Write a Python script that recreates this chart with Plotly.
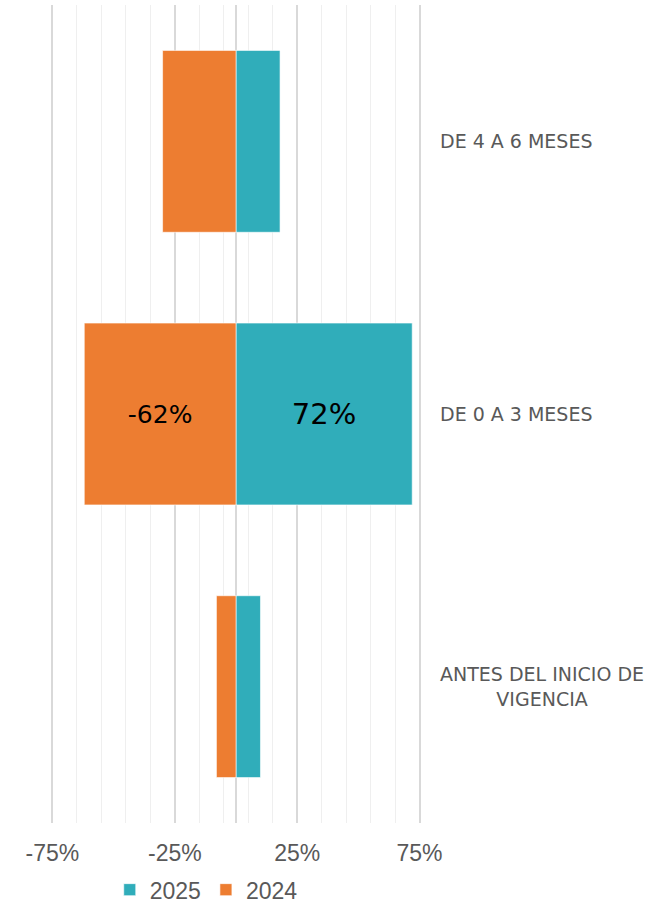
import plotly.graph_objects as go

# Categories listed from top to bottom
categories = ["DE 4 A 6 MESES", "DE 0 A 3 MESES", "ANTES DEL INICIO DE<br>VIGENCIA"]
values_2025 = [18, 72, 10]
values_2024 = [-30, -62, -8]
labelled_category = "DE 0 A 3 MESES"

tick_values = [-75, -25, 25, 75]
tick_labels = ["-75%", "-25%", "25%", "75%"]

teal = "#30ADBA"
orange = "#ED7D31"
grey_text = "#595959"


def bar_text(vals):
    return [f"{v}%" if c == labelled_category else "" for c, v in zip(categories, vals)]


fig = go.Figure()
fig.add_trace(go.Bar(
    name="2025", y=categories, x=values_2025, orientation="h",
    marker=dict(color=teal, line=dict(color="rgba(255,255,255,0.6)", width=1)),
    text=bar_text(values_2025), textposition="inside", insidetextanchor="middle",
    textangle=0, textfont=dict(family="DejaVu Sans", size=29, color="black"),
    width=0.667,
))
fig.add_trace(go.Bar(
    name="2024", y=categories, x=values_2024, orientation="h",
    marker=dict(color=orange, line=dict(color="rgba(255,255,255,0.6)", width=1)),
    text=bar_text(values_2024), textposition="inside", insidetextanchor="middle",
    textangle=0, textfont=dict(family="DejaVu Sans", size=25, color="black"),
    width=0.667,
))

# Category names on the right-hand side
for c in categories:
    fig.add_annotation(
        x=1.0, xref="paper", y=c, yref="y", text=c, showarrow=False,
        xanchor="left", xshift=16, align="center",
        font=dict(family="DejaVu Sans", size=19, color=grey_text),
    )

fig.update_layout(
    width=666, height=906,
    margin=dict(l=49.5, r=243.6, t=5, b=83, autoexpand=False),
    paper_bgcolor="white", plot_bgcolor="white",
    barmode="relative",
    showlegend=True,
    legend=dict(
        orientation="h", x=0.42, xanchor="center",
        yref="container", y=0.018, yanchor="middle",
        font=dict(family="Liberation Sans", size=23, color=grey_text),
        traceorder="normal", itemclick=False,
    ),
    xaxis=dict(
        range=[-76, 76], tickvals=tick_values, ticktext=tick_labels,
        showgrid=True, gridcolor="#D9D9D9", gridwidth=1.6,
        zeroline=True, zerolinecolor="#D9D9D9", zerolinewidth=1.6,
        minor=dict(tick0=-75, dtick=10, showgrid=True, gridcolor="#EFEFEF", gridwidth=1.3),
        ticks="", ticklabelstandoff=14, automargin=False,
        tickfont=dict(family="Liberation Sans", size=23, color=grey_text),
        showline=False, fixedrange=True,
    ),
    yaxis=dict(
        autorange="reversed", showticklabels=False, showgrid=False,
        zeroline=False, showline=False, fixedrange=True, automargin=False,
    ),
)

fig.write_html("out.html")
